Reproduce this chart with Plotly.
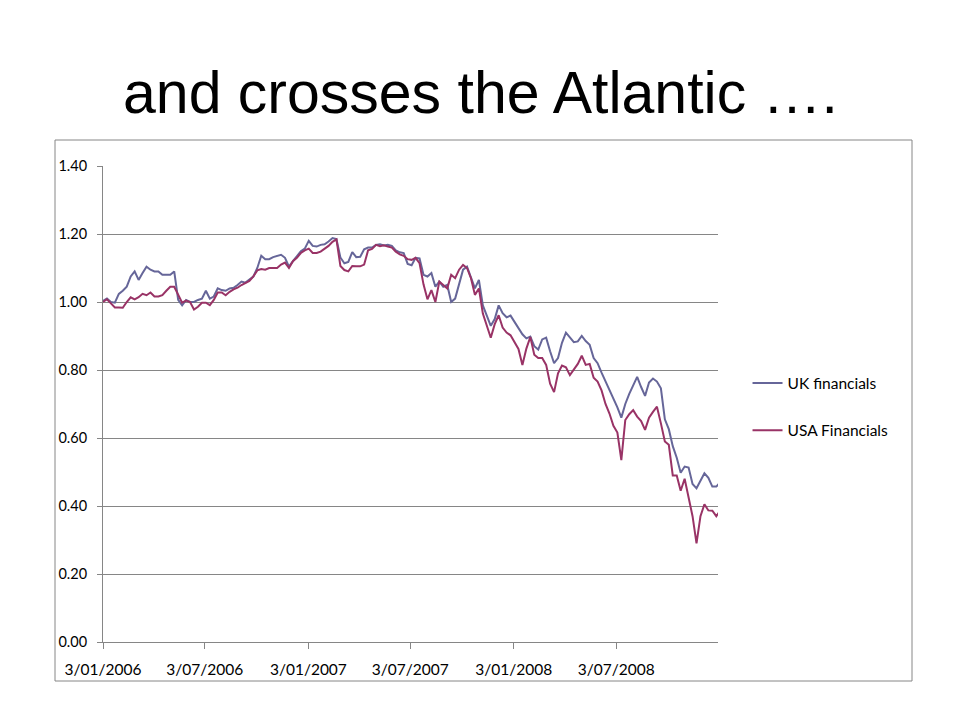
import pandas as pd
import plotly.graph_objects as go

title_text = "and crosses the Atlantic …."
series_names = ["UK financials", "USA Financials"]
first_date = "2006-01-03"
last_date = "2009-01-04"

uk_financials = [
    1.003, 1.010, 1.000, 0.998, 1.024, 1.033, 1.045, 1.075, 1.090, 1.065,
    1.085, 1.104, 1.095, 1.090, 1.090, 1.080, 1.080, 1.080, 1.090, 1.006,
    0.990, 1.006, 1.000, 1.000, 1.006, 1.010, 1.033, 1.010, 1.016, 1.040,
    1.035, 1.033, 1.040, 1.042, 1.050, 1.060, 1.057, 1.067, 1.075, 1.100,
    1.136, 1.126, 1.126, 1.132, 1.136, 1.139, 1.130, 1.104, 1.120, 1.134,
    1.149, 1.157, 1.180, 1.165, 1.163, 1.168, 1.170, 1.178, 1.188, 1.185,
    1.131, 1.114, 1.118, 1.147, 1.132, 1.133, 1.155, 1.160, 1.160, 1.168,
    1.170, 1.166, 1.168, 1.165, 1.152, 1.146, 1.144, 1.112, 1.108, 1.130,
    1.128, 1.080, 1.075, 1.085, 1.045, 1.060, 1.045, 1.050, 1.000, 1.010,
    1.055, 1.095, 1.104, 1.070, 1.040, 1.065, 0.990, 0.960, 0.930, 0.950,
    0.990, 0.967, 0.955, 0.960, 0.942, 0.920, 0.905, 0.893, 0.898, 0.870,
    0.860, 0.890, 0.895, 0.855, 0.820, 0.835, 0.880, 0.910, 0.895, 0.882,
    0.884, 0.900, 0.885, 0.874, 0.835, 0.820, 0.792, 0.766, 0.745, 0.715,
    0.690, 0.660, 0.700, 0.730, 0.753, 0.780, 0.750, 0.724, 0.763, 0.775,
    0.766, 0.746, 0.655, 0.626, 0.576, 0.542, 0.498, 0.516, 0.513, 0.465,
    0.452, 0.473, 0.496, 0.483, 0.457, 0.457, 0.470,
]

usa_financials = [
    1.000, 1.008, 0.996, 0.984, 0.984, 0.983, 1.000, 1.014, 1.008, 1.014,
    1.024, 1.020, 1.028, 1.016, 1.016, 1.020, 1.033, 1.045, 1.045, 1.020,
    0.998, 1.004, 1.000, 0.978, 0.986, 0.998, 0.998, 0.991, 1.006, 1.028,
    1.028, 1.020, 1.030, 1.037, 1.042, 1.050, 1.055, 1.062, 1.075, 1.093,
    1.097, 1.095, 1.100, 1.100, 1.100, 1.110, 1.116, 1.100, 1.120, 1.130,
    1.144, 1.152, 1.157, 1.144, 1.144, 1.148, 1.156, 1.165, 1.177, 1.184,
    1.106, 1.094, 1.090, 1.106, 1.105, 1.105, 1.110, 1.152, 1.156, 1.168,
    1.164, 1.167, 1.163, 1.160, 1.148, 1.140, 1.136, 1.126, 1.124, 1.130,
    1.114, 1.052, 1.008, 1.035, 1.000, 1.060, 1.050, 1.040, 1.080, 1.070,
    1.095, 1.109, 1.100, 1.070, 1.021, 1.040, 0.966, 0.932, 0.895, 0.935,
    0.961, 0.925, 0.910, 0.902, 0.880, 0.862, 0.815, 0.863, 0.897, 0.845,
    0.835, 0.835, 0.815, 0.760, 0.735, 0.790, 0.813, 0.808, 0.785, 0.800,
    0.818, 0.842, 0.815, 0.818, 0.777, 0.766, 0.740, 0.700, 0.672, 0.636,
    0.616, 0.535, 0.653, 0.670, 0.682, 0.663, 0.650, 0.624, 0.660, 0.677,
    0.692, 0.643, 0.590, 0.580, 0.490, 0.490, 0.445, 0.480, 0.428, 0.370,
    0.290, 0.370, 0.405, 0.387, 0.386, 0.370, 0.387,
]

x_tick_dates = ["2006-01-03", "2006-07-03", "2007-01-03", "2007-07-03", "2008-01-03", "2008-07-03"]
x_range = ["2006-01-03", "2008-12-31"]
y_tick_values = [0.0, 0.2, 0.4, 0.6, 0.8, 1.0, 1.2, 1.4]

# weekly observation dates, evenly spaced over the sampled period
dates = pd.date_range(first_date, last_date, periods=len(uk_financials))

colors = ["#666699", "#993366"]
GRID = "#868686"
FONT = "Lato, Liberation Sans, sans-serif"

W, H = 944, 704
L, R, T, B = 95, 234, 158, 70
PW, PH = W - L - R, H - T - B

def px_x(x):
    return (x - L) / PW

def px_y(y):
    return (H - B - y) / PH

fig = go.Figure()
for i, (name, vals) in enumerate(zip(series_names, [uk_financials, usa_financials])):
    fig.add_trace(go.Scatter(
        x=dates, y=vals, mode="lines", name=name, legendgroup=name,
        line=dict(color=colors[i], width=2),
    ))

fig.update_layout(
    width=W, height=H,
    paper_bgcolor="white", plot_bgcolor="white",
    margin=dict(l=L, r=R, t=T, b=B, autoexpand=False),
    showlegend=True,
    legend=dict(
        x=1.048, y=px_y(399), xanchor="left", yanchor="middle",
        font=dict(family=FONT, size=15.5, color="black"),
        tracegroupgap=24, bgcolor="rgba(0,0,0,0)",
    ),
    font=dict(family=FONT, size=14, color="black"),
)

fig.update_xaxes(
    type="date", range=x_range,
    tickvals=x_tick_dates, tickformat="%-d/%m/%Y",
    ticks="outside", ticklen=6, tickcolor=GRID,
    ticklabelstandoff=7,
    showline=True, linecolor=GRID, linewidth=1,
    showgrid=False, zeroline=False,
    tickfont=dict(family=FONT, size=15.5, color="black"),
)
fig.update_yaxes(
    range=[0, 1.4], tickvals=y_tick_values, tickformat=".2f",
    ticks="outside", ticklen=5, tickcolor=GRID,
    ticklabelstandoff=7,
    showline=True, linecolor=GRID, linewidth=1,
    showgrid=True, gridcolor=GRID, gridwidth=1,
    zeroline=False,
    tickfont=dict(family=FONT, size=14.5, color="black"),
)

# outer chart border (screen coords 55..912 x 140..681, page offset 8px)
fig.add_shape(type="rect", xref="paper", yref="paper",
              x0=px_x(47), x1=px_x(904), y0=px_y(673), y1=px_y(132),
              line=dict(color=GRID, width=1), fillcolor="rgba(0,0,0,0)", layer="below")

fig.add_annotation(
    text=title_text, xref="paper", yref="paper",
    x=px_x(472), y=px_y(85),
    xanchor="center", yanchor="middle", showarrow=False,
    font=dict(family="Liberation Sans, Arial, sans-serif", size=59, color="black"),
)

fig.write_html("out.html")
